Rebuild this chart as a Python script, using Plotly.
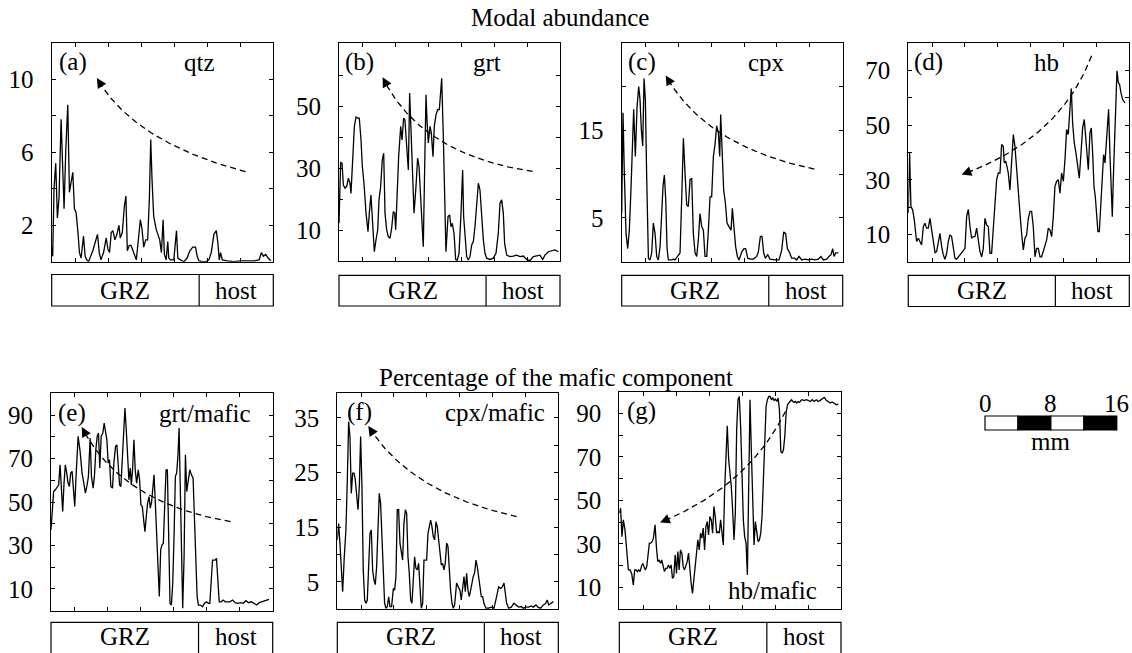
import numpy as np
import plotly.graph_objects as go

W, H = 1132, 653
FONT = "Liberation Serif"

# ---------------- data (distance along profile in mm, value in %) ----------------
qtz_x = [0.00, 0.12, 0.28, 0.49, 0.69, 0.89, 1.14, 1.34, 1.50, 1.70,
         1.95, 2.15, 2.35, 2.56, 2.76, 2.96, 3.17, 3.37, 3.57, 3.86,
         4.06, 4.26, 4.47, 4.67, 4.99, 5.24, 5.56, 5.77, 5.97, 6.29,
         6.62, 6.82, 7.02, 7.23, 7.43, 7.67, 7.92, 8.16, 8.32, 8.57,
         8.81, 9.01, 9.18, 9.42, 9.62, 9.87, 10.07, 10.27, 10.52, 10.76,
         10.96, 11.17, 11.41, 11.65, 11.86, 12.02, 12.18, 12.38, 12.67, 12.91,
         13.11, 13.32, 13.52, 13.68, 13.89, 14.09, 14.21, 14.41, 14.82, 15.15,
         15.31, 15.63, 16.04, 16.44, 16.77, 17.13, 17.46, 17.66, 17.86, 18.27,
         18.68, 19.08, 19.37, 19.69, 19.98, 20.18, 20.34, 20.50, 20.71, 21.32,
         22.13, 22.94, 23.75, 24.56, 25.17, 25.46, 25.70, 25.98, 26.27, 26.59]
qtz_y = [0.8, 0.3, 4.0, 5.4, 2.4, 3.5, 7.8, 4.5, 2.9, 6.0,
         8.6, 3.8, 4.3, 4.9, 2.9, 2.7, 1.7, 0.5, 0.2, 1.4,
         0.3, 0.1, 0.0, 0.2, 0.6, 1.0, 1.5, 0.5, 0.1, 0.5,
         1.3, 0.7, 0.5, 1.6, 1.7, 1.2, 1.5, 2.0, 1.3, 1.6,
         3.0, 3.6, 0.6, 0.9, 0.9, 0.6, 0.3, 0.1, 1.2, 2.3,
         1.8, 0.8, 1.2, 1.2, 3.5, 6.7, 4.5, 2.5, 1.8, 1.5,
         1.2, 0.5, 2.3, 0.4, 0.1, 1.1, 0.2, 0.1, 0.1, 1.7,
         0.2, 0.1, 0.0, 0.2, 0.6, 0.8, 0.8, 0.3, 0.05, 0.0,
         0.0, 0.1, 0.5, 1.5, 1.7, 1.0, 0.1, 0.5, 0.1, 0.05,
         0.0, 0.05, 0.05, 0.05, 0.1, 0.5, 0.3, 0.4, 0.2, 0.05]

grt_x = [0.00, 0.20, 0.37, 0.53, 0.73, 0.93, 1.14, 1.34, 1.46, 1.66,
         1.87, 2.07, 2.27, 2.47, 2.68, 2.84, 3.04, 3.29, 3.53, 3.69,
         3.89, 4.02, 4.18, 4.30, 4.50, 4.71, 4.87, 5.07, 5.27, 5.44,
         5.60, 5.80, 6.00, 6.21, 6.41, 6.61, 6.78, 6.90, 7.02, 7.26,
         7.51, 7.67, 7.87, 8.03, 8.24, 8.44, 8.60, 8.76, 8.97, 9.13,
         9.37, 9.57, 9.74, 9.90, 10.06, 10.26, 10.43, 10.59, 10.71, 10.87,
         11.08, 11.24, 11.44, 11.60, 11.81, 12.01, 12.21, 12.50, 12.70, 12.86,
         13.02, 13.27, 13.47, 13.63, 13.79, 14.00, 14.20, 14.40, 14.61, 14.85,
         15.05, 15.17, 15.34, 15.54, 15.74, 15.94, 16.15, 16.35, 16.55, 16.76,
         16.96, 17.16, 17.36, 17.57, 17.77, 17.97, 18.38, 18.78, 19.11, 19.39,
         19.60, 19.80, 20.00, 20.16, 20.41, 20.81, 21.22, 21.62, 22.03, 22.44,
         22.84, 23.25, 23.65, 24.06, 24.46, 24.79, 25.07, 25.48, 25.88, 26.29,
         26.70]
grt_y = [12.2, 31.9, 31.7, 24.6, 23.6, 24.1, 26.8, 25.2, 21.9, 33.8,
         43.6, 46.6, 46.3, 46.3, 39.2, 30.6, 25.2, 15.5, 9.5, 15.5,
         21.4, 15.5, 6.8, 3.0, 6.8, 10.1, 19.8, 24.1, 32.8, 34.9,
         15.5, 10.1, 7.9, 7.4, 10.6, 16.0, 15.5, 10.1, 17.6, 33.8,
         43.6, 39.2, 46.3, 45.7, 37.1, 29.5, 54.4, 43.6, 24.1, 15.5,
         24.1, 33.3, 30.6, 23.0, 14.4, 4.6, 30.6, 53.8, 45.7, 38.2,
         43.6, 41.4, 33.8, 43.6, 47.4, 49.0, 49.0, 59.2, 40.0, 20.0,
         3.0, 14.4, 14.9, 11.1, 12.2, 9.0, 0.5, 0.3, 2.5, 15.5,
         29.5, 14.4, 6.8, 1.4, 0.3, 1.4, 5.2, 6.3, 11.1, 19.8,
         25.2, 23.0, 14.4, 6.8, 2.5, 0.9, 0.5, 0.9, 2.5, 9.0,
         18.7, 19.8, 15.5, 5.7, 1.9, 1.4, 1.6, 1.9, 1.4, 1.6,
         0.5, 0.1, 1.4, 1.6, 1.9, 0.5, 1.9, 3.0, 3.4, 3.6,
         3.0]

cpx_x = [0.00, 0.16, 0.32, 0.53, 0.73, 0.93, 1.14, 1.30, 1.46, 1.66,
         1.87, 2.07, 2.23, 2.39, 2.56, 2.72, 2.88, 3.04, 3.25, 3.45,
         3.65, 3.85, 4.06, 4.26, 4.46, 4.67, 4.87, 5.03, 5.19, 5.36,
         5.52, 5.68, 6.09, 6.29, 6.49, 6.82, 7.10, 7.30, 7.51, 7.71,
         7.91, 8.11, 8.32, 8.52, 8.72, 8.93, 9.13, 9.33, 9.53, 9.74,
         9.94, 10.14, 10.35, 10.55, 10.75, 10.95, 11.16, 11.36, 11.56, 11.77,
         11.93, 12.05, 12.21, 12.41, 12.62, 12.82, 13.06, 13.31, 13.47, 13.63,
         13.87, 14.08, 14.28, 14.61, 14.89, 15.09, 15.34, 15.62, 16.03, 16.43,
         16.63, 16.88, 17.08, 17.28, 17.49, 17.77, 18.05, 18.66, 19.15, 19.47,
         19.72, 19.96, 20.16, 20.41, 20.69, 21.02, 21.30, 21.58, 21.91, 22.31,
         22.72, 23.12, 23.53, 23.94, 24.26, 24.54, 24.95, 25.23, 25.48, 25.68,
         25.84, 26.05, 26.37]
cpx_y = [5.5, 17.0, 10.1, 3.2, 1.5, 3.6, 8.6, 13.2, 17.4, 12.0,
         17.7, 20.0, 18.5, 15.1, 13.2, 20.9, 18.5, 9.7, 0.4, 0.2,
         1.0, 4.4, 3.2, 0.6, 0.2, 1.7, 5.5, 8.6, 9.9, 7.1,
         1.5, 0.2, 0.2, 0.3, 0.2, 0.6, 1.0, 7.1, 14.1, 10.1,
         6.5, 6.3, 9.4, 9.5, 3.2, 1.0, 0.6, 2.5, 5.5, 4.0,
         3.6, 0.6, 0.6, 3.6, 7.4, 7.4, 12.0, 13.4, 15.5, 14.7,
         12.0, 16.8, 13.5, 8.2, 6.7, 4.4, 4.0, 3.6, 6.1, 4.0,
         1.7, 0.6, 0.2, 1.1, 1.5, 1.5, 0.4, 0.3, 0.3, 0.6,
         1.1, 2.9, 2.9, 1.0, 0.4, 0.8, 0.3, 0.2, 0.2, 1.3,
         3.4, 3.2, 1.5, 1.1, 0.4, 0.4, 0.2, 0.6, 0.2, 0.3,
         0.2, 0.3, 0.2, 0.3, 0.6, 0.2, 0.3, 0.6, 0.8, 1.5,
         0.6, 1.0, 1.0]

hb_x = [0.00, 0.16, 0.32, 0.53, 0.73, 0.89, 1.01, 1.22, 1.42, 1.62,
        1.83, 2.03, 2.23, 2.43, 2.64, 2.84, 3.04, 3.25, 3.45, 3.65,
        3.85, 4.06, 4.26, 4.46, 4.67, 4.87, 5.07, 5.27, 5.48, 5.68,
        5.88, 6.09, 6.49, 6.90, 7.10, 7.30, 7.51, 7.71, 7.91, 8.11,
        8.32, 8.52, 8.72, 8.93, 9.13, 9.33, 9.53, 9.74, 9.94, 10.14,
        10.35, 10.55, 10.75, 10.95, 11.16, 11.36, 11.56, 11.68, 11.85, 12.01,
        12.17, 12.37, 12.58, 12.78, 12.98, 13.19, 13.39, 13.59, 13.79, 14.00,
        14.20, 14.40, 14.61, 14.81, 15.01, 15.21, 15.42, 15.62, 15.82, 16.03,
        16.23, 16.43, 16.63, 16.84, 17.04, 17.24, 17.45, 17.65, 17.85, 18.05,
        18.26, 18.46, 18.66, 18.87, 19.07, 19.27, 19.47, 19.68, 19.84, 20.00,
        20.20, 20.41, 20.61, 20.81, 21.02, 21.22, 21.42, 21.58, 21.75, 21.91,
        22.11, 22.27, 22.44, 22.60, 22.76, 22.92, 23.08, 23.25, 23.41, 23.61,
        23.77, 23.94, 24.14, 24.38, 24.54, 24.71, 24.83, 24.95, 25.11, 25.27,
        25.40, 25.56, 25.72, 25.88, 26.09, 26.37]
hb_y = [17.8, 39.8, 20.2, 19.0, 15.3, 10.4, 7.4, 8.6, 7.4, 6.1,
        12.9, 14.1, 12.3, 12.3, 15.9, 11.6, 6.7, 3.3, 3.7, 6.7,
        10.4, 5.5, 2.5, 0.9, 3.1, 7.4, 9.8, 9.2, 5.5, 1.2,
        0.9, 1.8, 3.1, 4.9, 16.5, 19.2, 12.9, 8.6, 9.2, 9.2,
        12.3, 8.0, 3.7, 1.8, 4.9, 15.9, 13.5, 12.9, 3.1, 3.1,
        12.9, 22.7, 30.0, 32.5, 32.5, 42.9, 42.3, 36.2, 36.8, 34.9,
        32.5, 26.3, 38.6, 46.6, 42.3, 32.5, 26.3, 17.8, 10.4, 4.3,
        8.6, 9.8, 15.9, 18.4, 18.4, 12.9, 1.8, 4.9, 4.9, 1.8,
        1.8, 3.7, 6.1, 8.0, 12.3, 11.6, 9.2, 16.5, 27.6, 29.4,
        30.0, 25.1, 32.5, 29.4, 37.4, 48.4, 46.6, 55.8, 63.4, 50.9,
        43.5, 39.8, 34.9, 30.6, 39.8, 49.0, 52.1, 46.0, 39.8, 33.7,
        47.2, 49.0, 39.8, 27.6, 23.9, 17.8, 11.0, 11.0, 20.2, 30.0,
        39.2, 36.2, 44.7, 55.8, 39.8, 27.6, 16.5, 30.0, 44.7, 61.9,
        69.9, 65.6, 64.9, 61.9, 59.4, 58.2]

grt_maf_x = [0.00, 0.16, 0.32, 0.53, 0.73, 0.93, 1.10, 1.26, 1.42, 1.58,
             1.74, 1.91, 2.07, 2.23, 2.39, 2.56, 2.72, 2.88, 3.04, 3.29,
             3.53, 3.77, 3.98, 4.18, 4.38, 4.54, 4.75, 4.91, 5.11, 5.27,
             5.44, 5.60, 5.76, 5.92, 6.09, 6.29, 6.45, 6.61, 6.78, 6.94,
             7.10, 7.26, 7.46, 7.63, 7.83, 7.99, 8.15, 8.32, 8.48, 8.64,
             8.80, 8.97, 9.13, 9.29, 9.45, 9.62, 9.74, 9.90, 10.06, 10.22,
             10.39, 10.59, 10.75, 10.91, 11.08, 11.24, 11.40, 11.56, 11.72, 11.89,
             12.05, 12.21, 12.37, 12.50, 12.66, 12.82, 12.98, 13.14, 13.31, 13.47,
             13.63, 13.79, 13.96, 14.12, 14.28, 14.44, 14.61, 14.77, 14.93, 15.09,
             15.25, 15.42, 15.54, 15.70, 15.86, 15.98, 16.15, 16.31, 16.47, 16.63,
             16.84, 17.04, 17.24, 17.40, 17.57, 17.73, 17.89, 18.13, 18.38, 18.62,
             18.87, 19.11, 19.27, 19.43, 19.60, 19.76, 19.92, 20.08, 20.24, 20.41,
             20.65, 20.89, 21.14, 21.38, 21.70, 22.03, 22.35, 22.68, 23.00, 23.33,
             23.65, 23.98, 24.30, 24.63, 24.95, 25.27, 25.60, 25.92, 26.25, 26.45]
grt_maf_y = [37.2, 46.4, 54.8, 55.6, 57.1, 57.9, 67.1, 58.7, 45.6, 58.7,
             67.1, 63.3, 58.7, 57.1, 63.3, 64.1, 53.3, 47.9, 61.8, 80.2,
             73.3, 63.3, 58.7, 54.1, 57.9, 61.8, 79.4, 61.8, 56.4, 61.8,
             74.0, 80.2, 81.7, 65.6, 80.2, 81.7, 86.3, 81.7, 78.6, 67.9,
             69.4, 57.1, 56.4, 67.9, 75.6, 76.3, 64.8, 57.9, 57.1, 69.4,
             86.3, 93.2, 83.3, 69.4, 60.2, 65.6, 57.9, 64.8, 78.6, 64.8,
             58.7, 64.8, 60.2, 48.7, 47.9, 41.8, 36.4, 43.3, 49.5, 52.5,
             47.2, 50.2, 55.6, 62.5, 49.5, 32.6, 18.7, 6.5, 28.0, 30.3,
             31.0, 46.4, 64.8, 64.8, 34.1, 3.4, 2.6, 12.6, 34.1, 61.8,
             63.3, 72.5, 84.0, 49.5, 11.1, 1.1, 24.9, 71.7, 54.8, 60.2,
             64.8, 62.5, 61.0, 43.3, 24.9, 6.5, 2.6, 2.6, 1.8, 3.4,
             4.1, 3.4, 3.4, 12.6, 23.3, 23.3, 23.3, 24.1, 12.6, 4.1,
             4.1, 4.9, 4.1, 4.1, 4.1, 4.9, 3.7, 3.4, 3.7, 3.4,
             4.6, 3.7, 4.1, 3.4, 2.6, 3.7, 4.1, 4.5, 4.9, 5.2]

cpx_maf_x = [0.00, 0.16, 0.32, 0.53, 0.65, 0.85, 1.05, 1.22, 1.38, 1.54,
             1.70, 1.87, 2.03, 2.19, 2.35, 2.52, 2.68, 2.84, 3.00, 3.16,
             3.33, 3.49, 3.65, 3.81, 3.98, 4.14, 4.30, 4.46, 4.62, 4.79,
             4.95, 5.11, 5.27, 5.44, 5.60, 5.76, 5.92, 6.09, 6.25, 6.41,
             6.61, 6.82, 6.98, 7.14, 7.30, 7.46, 7.63, 7.79, 7.95, 8.11,
             8.28, 8.44, 8.60, 8.76, 8.93, 9.09, 9.25, 9.41, 9.57, 9.74,
             9.90, 10.06, 10.22, 10.39, 10.55, 10.71, 10.87, 11.04, 11.20, 11.36,
             11.52, 11.68, 11.85, 12.01, 12.17, 12.33, 12.50, 12.66, 12.82, 12.98,
             13.14, 13.31, 13.47, 13.63, 13.79, 13.96, 14.12, 14.28, 14.52, 14.73,
             14.93, 15.09, 15.25, 15.42, 15.58, 15.74, 15.90, 16.07, 16.23, 16.39,
             16.55, 16.71, 16.88, 17.04, 17.20, 17.36, 17.53, 17.69, 17.85, 18.09,
             18.42, 18.74, 19.07, 19.39, 19.64, 19.88, 20.08, 20.29, 20.45, 20.61,
             20.85, 21.18, 21.50, 21.75, 22.07, 22.39, 22.64, 22.96, 23.29, 23.61,
             23.86, 24.18, 24.42, 24.75, 25.07, 25.32, 25.56, 25.72, 25.96, 26.29]
cpx_maf_y = [12.7, 15.7, 12.1, 7.2, 3.2, 9.6, 14.5, 23.7, 34.3, 31.6,
             21.2, 24.9, 24.9, 23.7, 20.6, 18.2, 22.4, 31.6, 22.4, 7.2,
             1.7, 1.1, 1.7, 8.4, 13.9, 14.5, 7.2, 5.4, 4.5, 7.8,
             15.1, 21.2, 19.4, 12.1, 4.1, 1.1, 0.2, 0.5, 2.3, 0.5,
             0.5, 3.8, 3.5, 6.0, 18.2, 18.2, 12.1, 10.2, 9.0, 15.7,
             18.2, 17.6, 9.6, 6.6, 1.7, 1.1, 4.8, 9.6, 7.5, 7.2,
             8.4, 4.8, 0.2, 1.1, 9.0, 9.0, 9.0, 13.9, 15.1, 16.3,
             15.1, 13.3, 12.7, 16.0, 15.1, 12.7, 9.6, 8.1, 8.4, 7.2,
             8.4, 12.1, 11.5, 7.2, 3.5, 1.1, 0.2, 0.8, 4.8, 4.1,
             3.5, 1.7, 4.1, 6.0, 3.2, 6.6, 3.5, 2.3, 3.5, 4.8,
             6.0, 6.6, 9.0, 7.8, 6.0, 4.8, 2.3, 2.3, 1.1, 0.2,
             0.2, 0.4, 0.2, 2.3, 4.1, 3.8, 4.1, 4.8, 2.3, 1.1,
             0.2, 0.4, 1.1, 0.8, 0.4, 0.5, 0.2, 0.4, 0.4, 0.6,
             0.4, 0.8, 0.4, 0.2, 0.8, 1.0, 1.7, 0.8, 1.1, 1.4]

hb_maf_x = [0.00, 0.16, 0.32, 0.49, 0.69, 0.89, 1.10, 1.30, 1.50, 1.70,
            1.87, 2.03, 2.19, 2.35, 2.52, 2.68, 2.84, 3.00, 3.16, 3.33,
            3.49, 3.65, 3.81, 3.98, 4.14, 4.34, 4.50, 4.67, 4.83, 4.99,
            5.15, 5.31, 5.48, 5.64, 5.80, 5.96, 6.13, 6.29, 6.45, 6.61,
            6.78, 6.94, 7.10, 7.26, 7.42, 7.59, 7.75, 7.91, 8.07, 8.24,
            8.40, 8.56, 8.72, 8.88, 9.05, 9.21, 9.37, 9.53, 9.70, 9.86,
            10.02, 10.18, 10.35, 10.51, 10.67, 10.83, 10.99, 11.16, 11.32, 11.48,
            11.64, 11.81, 11.97, 12.13, 12.29, 12.45, 12.62, 12.78, 12.94, 13.10,
            13.27, 13.43, 13.59, 13.75, 13.92, 14.08, 14.24, 14.40, 14.56, 14.73,
            14.89, 15.05, 15.21, 15.38, 15.54, 15.70, 15.86, 16.03, 16.19, 16.35,
            16.51, 16.67, 16.84, 17.00, 17.16, 17.32, 17.49, 17.65, 17.81, 17.97,
            18.13, 18.30, 18.46, 18.62, 18.78, 18.95, 19.11, 19.27, 19.43, 19.60,
            19.76, 19.92, 20.08, 20.24, 20.41, 20.57, 20.73, 20.89, 21.06, 21.22,
            21.38, 21.54, 21.70, 21.87, 22.03, 22.19, 22.44, 22.68, 22.92, 23.17,
            23.41, 23.65, 23.90, 24.14, 24.38, 24.63, 24.87, 25.11, 25.36, 25.60,
            25.84, 26.09, 26.33, 26.57]
hb_maf_y = [44.1, 46.4, 33.3, 41.0, 36.4, 27.2, 18.0, 18.0, 16.4, 11.1,
            18.0, 18.0, 17.2, 18.0, 17.2, 19.5, 21.0, 19.5, 18.0, 19.5,
            24.1, 30.3, 30.3, 31.0, 32.6, 38.7, 28.7, 21.8, 22.6, 21.0,
            22.6, 19.5, 17.2, 18.7, 18.7, 20.3, 18.7, 20.3, 14.1, 14.9,
            24.9, 16.4, 26.4, 18.0, 27.2, 25.7, 19.5, 18.0, 19.5, 21.8,
            25.7, 18.0, 11.8, 7.2, 13.4, 21.0, 26.4, 31.8, 27.2, 34.9,
            32.6, 37.2, 27.2, 37.9, 40.2, 34.1, 42.6, 41.0, 34.9, 47.2,
            42.6, 34.9, 35.6, 34.9, 41.0, 36.4, 29.5, 54.8, 70.2, 84.3,
            68.7, 62.5, 56.4, 45.6, 31.8, 44.1, 82.5, 96.3, 97.8, 83.3,
            59.4, 41.0, 33.3, 30.3, 15.7, 59.4, 96.3, 71.7, 48.7, 29.5,
            40.2, 34.9, 31.0, 31.8, 34.9, 42.6, 59.4, 79.4, 93.2, 96.3,
            97.8, 97.8, 96.3, 97.1, 96.0, 96.6, 95.5, 97.1, 91.7, 72.5,
            71.7, 73.3, 79.4, 90.2, 94.0, 94.8, 95.5, 96.3, 95.5, 95.1,
            95.5, 94.8, 95.5, 95.1, 96.0, 96.3, 95.9, 96.3, 96.0, 95.5,
            96.3, 95.5, 96.3, 95.5, 96.0, 96.6, 97.4, 96.0, 95.5, 94.8,
            95.3, 94.5, 94.0, 94.3]

# trend arrows: (tail, control, tip) in data units (mm, %)
arrow_qtz = [(23.53, 4.93), (9.94, 6.55), (5.48, 10.06)]
arrow_grt = [(23.57, 29.0), (9.86, 34.4), (5.31, 59.5)]
arrow_cpx = [(23.45, 10.57), (10.14, 13.17), (5.36, 21.26)]
arrow_hb = [(22.31, 75.4), (18.46, 44.7), (6.49, 31.9)]
arrow_grt_maf = [(21.79, 41.0), (8.40, 49.5), (3.73, 84.5)]
arrow_cpx_maf = [(21.83, 16.95), (8.84, 21.2), (3.77, 33.5)]
arrow_hb_maf = [(20.16, 90.9), (15.70, 56.4), (4.95, 39.8)]

profile_len_mm = 26.9
zone_boundary_mm = 17.9
zone_names = ["GRZ", "host"]
tick_step_mm = 4
scale_marks_mm = [0, 4, 8, 12, 16]
scale_labels_mm = [0, 8, 16]

# ---------------- layout helpers ----------------
def px(x):
    return x / W


def py(y):
    return 1 - y / H


panels = [
    dict(x=qtz_x, y=qtz_y, box=(51.7, 42.7, 273.3, 261.7), yr=[0, 12],
         tv=[2, 4, 6, 8, 10], tt=["2", "", "6", "", "10"],
         letter="(a)", lpos=(73, 62), name="qtz", npos=(199, 62),
         arrow=arrow_qtz, zone=(274.5, 306.0), ztext=290),
    dict(x=grt_x, y=grt_y, box=(339.0, 43.3, 560.0, 261.0), yr=[0, 70.5],
         tv=[10, 20, 30, 40, 50, 60], tt=["10", "", "30", "", "50", ""],
         letter="(b)", lpos=(359, 62), name="grt", npos=(487, 62),
         arrow=arrow_grt, zone=(275.3, 306.0), ztext=290),
    dict(x=cpx_x, y=cpx_y, box=(621.7, 42.7, 842.7, 261.7), yr=[0, 25],
         tv=[5, 10, 15, 20], tt=["5", "", "15", ""],
         letter="(c)", lpos=(642, 62), name="cpx", npos=(766, 62),
         arrow=arrow_cpx, zone=(275.3, 306.0), ztext=290),
    dict(x=hb_x, y=hb_y, box=(908.3, 43.3, 1129.3, 261.7), yr=[0, 80],
         tv=[10, 20, 30, 40, 50, 60, 70], tt=["10", "", "30", "", "50", "", "70"],
         letter="(d)", lpos=(929, 62), name="hb", npos=(1046, 62),
         arrow=arrow_hb, zone=(275.3, 306.5), ztext=290),
    dict(x=grt_maf_x, y=grt_maf_y, box=(51.0, 393.3, 272.7, 610.7), yr=[0, 100],
         tv=[10, 20, 30, 40, 50, 60, 70, 80, 90], tt=["10", "", "30", "", "50", "", "70", "", "90"],
         letter="(e)", lpos=(72, 413), name="grt/mafic", npos=(205, 413),
         arrow=arrow_grt_maf, zone=(622.3, 662.0), ztext=636.5),
    dict(x=cpx_maf_x, y=cpx_maf_y, box=(337.3, 392.7, 558.3, 609.3), yr=[0, 39.6],
         tv=[5, 10, 15, 20, 25, 30, 35], tt=["5", "", "15", "", "25", "", "35"],
         letter="(f)", lpos=(359, 412), name="cpx/mafic", npos=(495, 412),
         arrow=arrow_cpx_maf, zone=(622.3, 662.0), ztext=636.5),
    dict(x=hb_maf_x, y=hb_maf_y, box=(619.3, 391.7, 841.0, 609.0), yr=[0, 100],
         tv=[10, 20, 30, 40, 50, 60, 70, 80, 90], tt=["10", "", "30", "", "50", "", "70", "", "90"],
         letter="(g)", lpos=(641, 411), name="hb/mafic", npos=(772, 590),
         arrow=arrow_hb_maf, zone=(622.3, 662.0), ztext=636.5),
]

fig = go.Figure()
shapes = []
annotations = []
TXT = 25

for i, p in enumerate(panels, start=1):
    xid = "x" if i == 1 else f"x{i}"
    yid = "y" if i == 1 else f"y{i}"
    xkey = "xaxis" if i == 1 else f"xaxis{i}"
    ykey = "yaxis" if i == 1 else f"yaxis{i}"
    l, t, r, b = p["box"]

    fig.add_trace(go.Scatter(x=p["x"], y=p["y"], mode="lines",
                             line=dict(color="black", width=1.3),
                             xaxis=xid, yaxis=yid, showlegend=False, hoverinfo="skip"))

    # dashed trend arrow (quadratic Bezier)
    (x0, y0), (xc, yc), (x1, y1) = p["arrow"]
    tt_ = np.linspace(0, 1, 80)
    bx = (1 - tt_) ** 2 * x0 + 2 * tt_ * (1 - tt_) * xc + tt_ ** 2 * x1
    by = (1 - tt_) ** 2 * y0 + 2 * tt_ * (1 - tt_) * yc + tt_ ** 2 * y1
    fig.add_trace(go.Scatter(x=bx[:-4], y=by[:-4], mode="lines",
                             line=dict(color="black", width=1.3, dash="6px,4px"),
                             xaxis=xid, yaxis=yid, showlegend=False, hoverinfo="skip"))
    k = 74
    annotations.append(dict(x=x1, y=y1, ax=bx[k], ay=by[k], xref=xid, yref=yid,
                            axref=xid, ayref=yid, text="", showarrow=True,
                            arrowhead=2, arrowsize=1.5, arrowwidth=1.3,
                            arrowcolor="black", standoff=0))

    common = dict(showline=True, mirror="ticks", linecolor="black", linewidth=1.2,
                  ticks="inside", ticklen=4, tickwidth=1, tickcolor="black",
                  showgrid=False, zeroline=False, fixedrange=True)
    fig.update_layout({
        xkey: dict(domain=[px(l), px(r)], range=[0, profile_len_mm],
                   tick0=profile_len_mm % tick_step_mm, dtick=tick_step_mm,
                   showticklabels=False, anchor=yid, **common),
        ykey: dict(domain=[py(b), py(t)], range=p["yr"], tickmode="array",
                   tickvals=p["tv"], ticktext=p["tt"], anchor=xid,
                   tickfont=dict(family=FONT, size=TXT, color="black"),
                   ticklabelstandoff=12, **common),
    })

    # panel letter and mineral name
    annotations.append(dict(x=px(p["lpos"][0]), y=py(p["lpos"][1]), xref="paper", yref="paper",
                            text=p["letter"], showarrow=False, xanchor="center", yanchor="middle",
                            font=dict(family=FONT, size=TXT, color="black")))
    annotations.append(dict(x=px(p["npos"][0]), y=py(p["npos"][1]), xref="paper", yref="paper",
                            text=p["name"], showarrow=False, xanchor="center", yanchor="middle",
                            font=dict(family=FONT, size=TXT, color="black")))

    # GRZ / host zone bar
    zt, zb = p["zone"]
    shapes.append(dict(type="rect", xref=f"{xid} domain", yref="paper",
                       x0=0, x1=1, y0=py(zb), y1=py(zt),
                       line=dict(color="black", width=1.2), fillcolor="rgba(0,0,0,0)"))
    shapes.append(dict(type="line", xref=xid, yref="paper",
                       x0=zone_boundary_mm, x1=zone_boundary_mm, y0=py(zb), y1=py(zt),
                       line=dict(color="black", width=1.2)))
    for name, xc_ in zip(zone_names, [zone_boundary_mm / 2, (zone_boundary_mm + profile_len_mm) / 2]):
        annotations.append(dict(x=xc_, y=py(p["ztext"]), xref=xid, yref="paper", text=name,
                                showarrow=False, xanchor="center", yanchor="middle",
                                font=dict(family=FONT, size=TXT, color="black")))

# section titles
annotations.append(dict(x=px(560), y=py(17), xref="paper", yref="paper", text="Modal abundance",
                        showarrow=False, xanchor="center", yanchor="middle",
                        font=dict(family=FONT, size=TXT, color="black")))
annotations.append(dict(x=px(556), y=py(377), xref="paper", yref="paper",
                        text="Percentage of the mafic component",
                        showarrow=False, xanchor="center", yanchor="middle",
                        font=dict(family=FONT, size=TXT, color="black")))

# scale bar (mm)
px_per_mm = (panels[0]["box"][2] - panels[0]["box"][0]) / profile_len_mm
sb_x0, sb_top, sb_bot = 985.0, 416.0, 430.0
for j in range(len(scale_marks_mm) - 1):
    a_, b_ = scale_marks_mm[j], scale_marks_mm[j + 1]
    shapes.append(dict(type="rect", xref="paper", yref="paper",
                       x0=px(sb_x0 + a_ * px_per_mm), x1=px(sb_x0 + b_ * px_per_mm),
                       y0=py(sb_bot), y1=py(sb_top),
                       line=dict(color="black", width=1.2),
                       fillcolor="white" if j % 2 == 0 else "black"))
for m in scale_labels_mm:
    annotations.append(dict(x=px(sb_x0 + m * px_per_mm), y=py(403), xref="paper", yref="paper",
                            text=str(m), showarrow=False, xanchor="center", yanchor="middle",
                            font=dict(family=FONT, size=TXT, color="black")))
annotations.append(dict(x=px(sb_x0 + 8 * px_per_mm), y=py(441), xref="paper", yref="paper",
                        text="mm", showarrow=False, xanchor="center", yanchor="middle",
                        font=dict(family=FONT, size=TXT, color="black")))

fig.update_layout(width=W, height=H, margin=dict(l=0, r=0, t=0, b=0),
                  paper_bgcolor="white", plot_bgcolor="white", showlegend=False,
                  font=dict(family=FONT, size=TXT, color="black"),
                  shapes=shapes, annotations=annotations)

fig.write_html("out.html")
